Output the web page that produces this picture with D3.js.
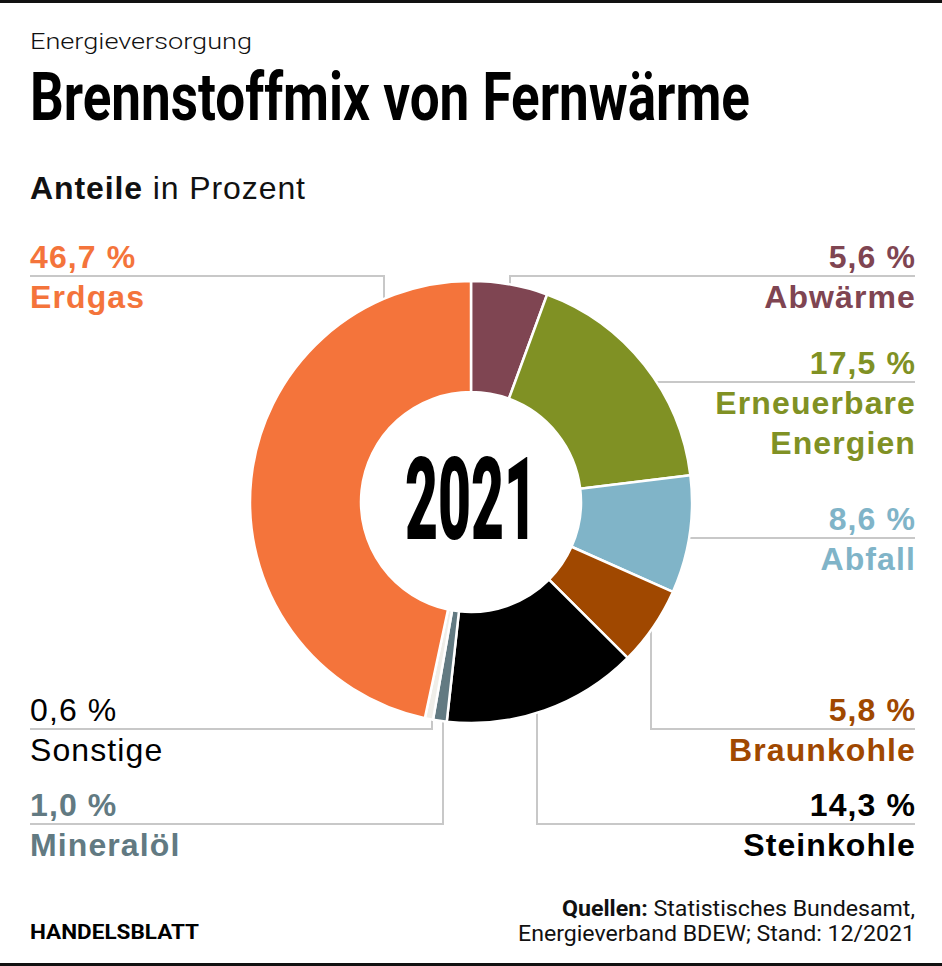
<!DOCTYPE html>
<html><head><meta charset="utf-8">
<script src="https://cdn.jsdelivr.net/npm/d3@7/dist/d3.min.js"></script>
<style>
html,body{margin:0;padding:0;background:#fff;}
svg text{font-family:"Liberation Sans",Arial,sans-serif;}
</style></head>
<body>
<svg id="chart" width="942" height="966"></svg>
<script>
// ---- data ----
const categories = ["Abwärme","Erneuerbare Energien","Abfall","Braunkohle","Steinkohle","Mineralöl","Sonstige","Erdgas"];
const values = [5.6, 17.5, 8.6, 5.8, 14.3, 1.0, 0.6, 46.7];
const valueLabels = ["5,6 %","17,5 %","8,6 %","5,8 %","14,3 %","1,0 %","0,6 %","46,7 %"];
const nameLines = [["Abwärme"],["Erneuerbare","Energien"],["Abfall"],["Braunkohle"],["Steinkohle"],["Mineralöl"],["Sonstige"],["Erdgas"]];
const colors = ["#7f4552","#809124","#80b4c8","#a04800","#000000","#627a82","#efeee9","#f4743b"];
const textColors = ["#7f4552","#809124","#80b4c8","#a04800","#000000","#627a82","#000000","#f4743b"];
const centerLabel = "2021";

// ---- layout ----
const W = 942, cx = 471, cy = 502, rOut = 221, rIn = 110;
const layout = {
  "Abwärme":              {side:"right", y:276, vx:510},
  "Erneuerbare Energien": {side:"right", y:382, vx:null},
  "Abfall":               {side:"right", y:538, vx:null},
  "Braunkohle":           {side:"right", y:729, vx:651},
  "Steinkohle":           {side:"right", y:824, vx:537},
  "Mineralöl":            {side:"left",  y:824, vx:443},
  "Sonstige":             {side:"left",  y:729, vx:432},
  "Erdgas":               {side:"left",  y:276, vx:384}
};
const normalWeight = {"Sonstige":true};

const svg = d3.select("#chart");

// borders
svg.append("rect").attr("x",0).attr("y",0).attr("width",W).attr("height",3).attr("fill","#111");
svg.append("rect").attr("x",0).attr("y",963).attr("width",W).attr("height",3).attr("fill","#111");

// headings
svg.append("text").attr("x",30).attr("y",49).attr("font-size",22).attr("font-weight",300)
  .style("font-family","Roboto, 'Liberation Sans', sans-serif")
  .attr("textLength",222).attr("lengthAdjust","spacingAndGlyphs").attr("fill","#111").text("Energieversorgung");
svg.append("text").attr("x",30).attr("y",120).attr("font-size",67).attr("font-weight",700)
  .style("font-family","Roboto, 'Liberation Sans', sans-serif")
  .attr("textLength",720).attr("lengthAdjust","spacingAndGlyphs").attr("fill","#000").text("Brennstoffmix von Fernwärme");
const sub = svg.append("text").attr("x",30).attr("y",199).attr("font-size",32).attr("fill","#111")
  .attr("textLength",275).attr("lengthAdjust","spacing");
sub.append("tspan").attr("font-weight",700).text("Anteile");
sub.append("tspan").attr("font-weight",400).text(" in Prozent");

// pie
const data = categories.map((c,i)=>({name:c, value:values[i], color:colors[i], tcolor:textColors[i], vlabel:valueLabels[i], lines:nameLines[i]}));
const pie = d3.pie().value(d=>d.value).sort(null).startAngle(0).endAngle(2*Math.PI);
const arc = d3.arc().innerRadius(rIn).outerRadius(rOut);
const arcs = pie(data);

// leader lines (drawn first, donut covers their ends)
const rTip = rOut - 8;
const lineG = svg.append("g").attr("fill","none").attr("stroke","#c8c8c8").attr("stroke-width",2);
arcs.forEach(a=>{
  const L = layout[a.data.name];
  const xEdge = L.side==="right" ? 915 : 30;
  let pts;
  if (L.vx !== null) {
    const dx = L.vx - cx;
    const dy = Math.sqrt(rTip*rTip - dx*dx);
    const yTip = L.y < cy ? cy - dy : cy + dy;
    pts = [[xEdge, L.y],[L.vx, L.y],[L.vx, yTip]];
  } else {
    const dy = L.y - cy;
    const dx = Math.sqrt(rTip*rTip - dy*dy);
    const xTip = L.side==="right" ? cx + dx : cx - dx;
    pts = [[xEdge, L.y],[xTip, L.y]];
  }
  lineG.append("path").attr("d", d3.line()(pts));
});

// donut
svg.append("g").attr("transform",`translate(${cx},${cy})`)
  .selectAll("path").data(arcs).join("path")
  .attr("d",arc).attr("fill",d=>d.data.color)
  .attr("stroke","#fff").attr("stroke-width",2.5).attr("stroke-linejoin","round");

// centre label
svg.append("text").attr("x",cx).attr("y",539).attr("text-anchor","middle")
  .attr("font-size",115).attr("font-weight",900)
  .style("font-family","Roboto, 'Liberation Sans', sans-serif")
  .attr("textLength",132).attr("lengthAdjust","spacingAndGlyphs").attr("fill","#000").text(centerLabel);

// labels
const labG = svg.append("g");
arcs.forEach(a=>{
  const d = a.data, L = layout[d.name];
  const right = L.side==="right";
  const x = right ? 916 : 30;
  const anchor = right ? "end" : "start";
  const fw = normalWeight[d.name] ? 400 : 700;
  const rows = [{t:d.vlabel, y:L.y-8}].concat(d.lines.map((ln,j)=>({t:ln, y:L.y+32+j*40})));
  rows.forEach(r=>{
    labG.append("text").attr("x",x).attr("y",r.y).attr("text-anchor",anchor)
      .attr("font-size",32).attr("font-weight",fw).attr("letter-spacing",1.1)
      .attr("fill",d.tcolor).text(r.t);
  });
});

// footer
svg.append("text").attr("x",30).attr("y",939).attr("font-size",21).attr("font-weight",700)
  .style("font-family","Roboto, 'Liberation Sans', sans-serif")
  .attr("textLength",169).attr("lengthAdjust","spacingAndGlyphs").attr("fill","#000").text("HANDELSBLATT");
const f1 = svg.append("text").attr("x",562).attr("y",916).attr("font-size",22)
  .style("font-family","Roboto, 'Liberation Sans', sans-serif").attr("fill","#111")
  .attr("textLength",353).attr("lengthAdjust","spacingAndGlyphs");
f1.append("tspan").attr("font-weight",700).text("Quellen:");
f1.append("tspan").attr("font-weight",400).text(" Statistisches Bundesamt,");
svg.append("text").attr("x",518).attr("y",941).attr("font-size",22)
  .style("font-family","Roboto, 'Liberation Sans', sans-serif").attr("fill","#111")
  .attr("textLength",397).attr("lengthAdjust","spacingAndGlyphs")
  .text("Energieverband BDEW; Stand: 12/2021");
</script>
</body></html>
